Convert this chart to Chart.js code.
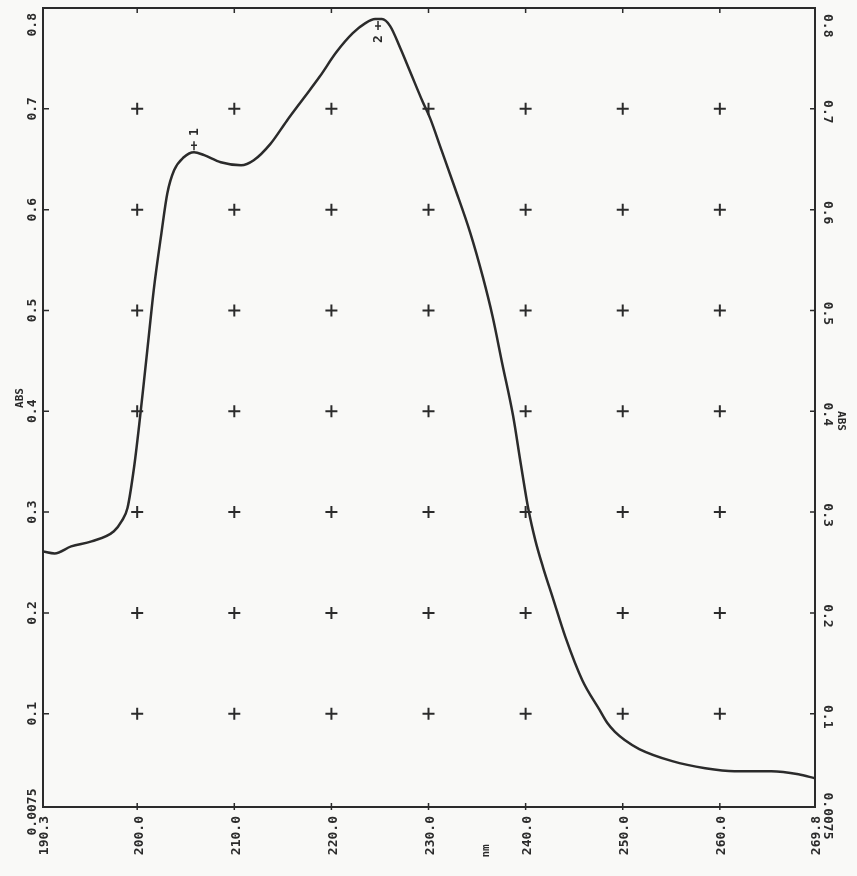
<!DOCTYPE html>
<html>
<head>
<meta charset="utf-8">
<script src="https://cdn.jsdelivr.net/npm/chart.js@4.4.1/dist/chart.umd.min.js"></script>
<style>
  html, body { margin: 0; padding: 0; background: #f9f9f7; }
  #wrap { width: 857px; height: 876px; position: relative; }
</style>
</head>
<body>
<div id="wrap"><canvas id="chart"></canvas></div>
<script>
"use strict";

// UV spectrum
const wavelengths = [190.3, 191.5, 193.2, 195.3, 197.6, 198.4, 199.0, 199.7, 200.2, 200.7,
  201.2, 201.7, 202.5, 203.1, 203.8, 204.8, 205.85, 206.9, 208.6, 210.7,
  212.0, 213.7, 215.4, 217.1, 218.8, 220.5, 222.2, 223.5, 224.5, 225.2,
  226.05, 227.1, 228.1, 229.4, 230.15, 231.3, 232.7, 234.3, 235.6, 236.6,
  237.6, 238.7, 239.5, 240.3, 241.0, 241.8, 242.8, 244.1, 245.85, 247.6,
  248.4, 249.2, 250.2, 251.7, 255.1, 258.5, 261.5, 265.3, 268.1, 269.8];
const absorbance = [0.261, 0.259, 0.266, 0.271, 0.281, 0.291, 0.304, 0.346, 0.386, 0.430,
  0.475, 0.520, 0.577, 0.616, 0.639, 0.652, 0.657, 0.654, 0.647, 0.644,
  0.649, 0.665, 0.688, 0.710, 0.732, 0.756, 0.775, 0.785, 0.789, 0.789,
  0.782, 0.760, 0.737, 0.707, 0.691, 0.660, 0.622, 0.577, 0.533, 0.494,
  0.447, 0.396, 0.348, 0.302, 0.272, 0.245, 0.215, 0.176, 0.133, 0.104,
  0.091, 0.082, 0.074, 0.065, 0.053, 0.046, 0.043, 0.043, 0.040, 0.036];

const xTicks = [190.3, 200, 210, 220, 230, 240, 250, 260, 269.8];
const xTickLabels = ['190.3', '200.0', '210.0', '220.0', '230.0', '240.0', '250.0', '260.0', '269.8'];
const yTicks = [0.0075, 0.1, 0.2, 0.3, 0.4, 0.5, 0.6, 0.7, 0.8];
const yTickLabels = ['0.0075', '0.1', '0.2', '0.3', '0.4', '0.5', '0.6', '0.7', '0.8'];

const peakLabels = ['1', '2'];
const peakNm = [205.85, 224.8];
const peakAbs = [0.657, 0.789];

const INK = '#2b2b2b';
const FONT = 'bold 13px "DejaVu Sans Mono", monospace';

// "+" marks at the inner grid crossings
const crosses = [];
xTicks.slice(1, -1).forEach(x => {
  yTicks.slice(1, -1).forEach(y => crosses.push({x: x, y: y}));
});

function rotText(ctx, text, x, y, angle, align) {
  ctx.save();
  ctx.translate(x, y);
  ctx.rotate(angle);
  ctx.textAlign = align;
  ctx.textBaseline = 'middle';
  ctx.fillText(text, 0, 0);
  ctx.restore();
}

const frame = {
  id: 'frame',
  beforeDraw(chart) {
    const c = chart.ctx;
    c.save();
    c.fillStyle = '#f9f9f7';
    c.fillRect(0, 0, chart.width, chart.height);
    c.restore();
  },
  afterDraw(chart) {
    const c = chart.ctx;
    const a = chart.chartArea;
    const sx = chart.scales.x, sy = chart.scales.y;
    c.save();
    c.strokeStyle = INK;
    c.fillStyle = INK;
    c.lineWidth = 2;
    c.strokeRect(a.left, a.top, a.right - a.left, a.bottom - a.top);

    c.lineWidth = 1.5;
    c.beginPath();
    xTicks.slice(1, -1).forEach(v => {
      const px = sx.getPixelForValue(v);
      c.moveTo(px, a.top); c.lineTo(px, a.top + 5);
      c.moveTo(px, a.bottom + 3); c.lineTo(px, a.bottom - 4);
    });
    yTicks.slice(1, -1).forEach(v => {
      const py = sy.getPixelForValue(v);
      c.moveTo(a.left, py); c.lineTo(a.left + 6, py);
      c.moveTo(a.right, py); c.lineTo(a.right - 5, py);
    });
    c.stroke();

    c.font = FONT;
    // bottom labels, reading upwards
    xTicks.forEach((v, i) => {
      rotText(c, xTickLabels[i], sx.getPixelForValue(v) + 2, a.bottom + 9, -Math.PI / 2, 'right');
    });
    // left labels
    yTicks.forEach((v, i) => {
      let py = sy.getPixelForValue(v);
      if (i === yTicks.length - 1) { rotText(c, yTickLabels[i], 33, a.top + 5, -Math.PI / 2, 'right'); return; }
      if (i === 0) py = 812;
      rotText(c, yTickLabels[i], 33, py, -Math.PI / 2, 'center');
    });
    // right labels, reading downwards
    yTicks.forEach((v, i) => {
      let py = sy.getPixelForValue(v) + 3;
      if (i === yTicks.length - 1) { rotText(c, yTickLabels[i], 827, a.top + 6, Math.PI / 2, 'left'); return; }
      if (i === 0) py = 816;
      rotText(c, yTickLabels[i], 827, py, Math.PI / 2, 'center');
    });

    c.font = 'bold 11px "DejaVu Sans Mono", monospace';
    rotText(c, 'ABS', 20, 398, -Math.PI / 2, 'center');
    rotText(c, 'ABS', 841, 421, Math.PI / 2, 'center');
    rotText(c, 'nm', 486, 851, -Math.PI / 2, 'center');

    // peak markers
    c.font = FONT;
    c.lineWidth = 1.5;
    peakLabels.forEach((lab, i) => {
      const px = sx.getPixelForValue(peakNm[i]);
      const py = sy.getPixelForValue(peakAbs[i]);
      const dir = i === 0 ? -1 : 1;
      c.beginPath();
      c.moveTo(px, py + dir * 2); c.lineTo(px, py + dir * 11);
      c.moveTo(px - 3, py + dir * 7); c.lineTo(px + 3, py + dir * 7);
      c.stroke();
      rotText(c, lab, px + 1, py + dir * 20, -Math.PI / 2, 'center');
    });
    c.restore();
  }
};

new Chart(document.getElementById('chart').getContext('2d'), {
  type: 'line',
  data: {
    datasets: [
      {
        label: 'spectrum',
        data: wavelengths.map((x, i) => ({x: x, y: absorbance[i]})),
        borderColor: INK,
        borderWidth: 2.5,
        pointRadius: 0,
        fill: false,
        cubicInterpolationMode: 'monotone',
      },
      {
        label: 'grid',
        data: crosses,
        showLine: false,
        pointStyle: 'cross',
        pointRadius: 6,
        pointBorderWidth: 2,
        pointBorderColor: INK,
        pointHoverRadius: 6,
      },
    ],
  },
  options: {
    responsive: true,
    maintainAspectRatio: false,
    animation: false,
    layout: {padding: {left: 43, right: 42, top: 5, bottom: 69}},
    plugins: {legend: {display: false}, tooltip: {enabled: false}},
    scales: {
      x: {type: 'linear', min: 190.3, max: 269.8, display: false},
      y: {type: 'linear', min: 0.0075, max: 0.8, display: false},
    },
  },
  plugins: [frame],
});
</script>
</body>
</html>
